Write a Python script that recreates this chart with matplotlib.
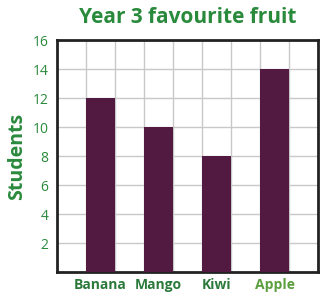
import numpy as np
import matplotlib.pyplot as plt

# dados do gráfico
fruits = ["Banana", "Mango", "Kiwi", "Apple"]
students = [12, 10, 8, 14]
label_colors = ["#2b7a3b", "#2b7a3b", "#2b7a3b", "#5a9e3e"]
y_ticks = [2, 4, 6, 8, 10, 12, 14, 16]

GREEN = "#2a8a3c"
BAR = "#521a40"

fig = plt.figure(figsize=(3.23, 2.97), dpi=100)
ax = fig.add_axes([0.176, 0.084, 0.809, 0.781])

x_pos = np.arange(len(fruits)) * 2 + 1
ax.bar(x_pos, students, width=1.0, color=BAR, zorder=3)

ax.set_xlim(-0.5, 8.5)
ax.set_ylim(0, 16)
ax.set_xticks(np.arange(0.5, 8.5, 1), minor=True)
ax.set_yticks(y_ticks)
ax.set_yticklabels([str(v) for v in y_ticks], color=GREEN, fontsize=10,
                   family="Open Sans")
ax.grid(which="minor", axis="x", color="#c8c8c8", linewidth=1.0, zorder=0)
ax.grid(which="major", axis="y", color="#c8c8c8", linewidth=1.0, zorder=0)
ax.tick_params(axis="both", which="both", length=0)
ax.tick_params(axis="y", pad=6)

ax.set_xticks(x_pos)
ax.set_xticklabels(fruits, fontsize=10, fontweight="bold", family="Open Sans")
for lbl, c in zip(ax.get_xticklabels(), label_colors):
    lbl.set_color(c)
ax.tick_params(axis="x", pad=4)

for s in ax.spines.values():
    s.set_linewidth(2.0)
    s.set_color("#222222")

ax.set_ylabel("Students", color=GREEN, fontsize=14, fontweight="bold",
              family="Open Sans", labelpad=4)
fig.text(0.58, 0.94, "Year 3 favourite fruit", ha="center", va="center",
         color=GREEN, fontsize=15, fontweight="bold", family="Open Sans")

fig.savefig("out.png", dpi=100)
